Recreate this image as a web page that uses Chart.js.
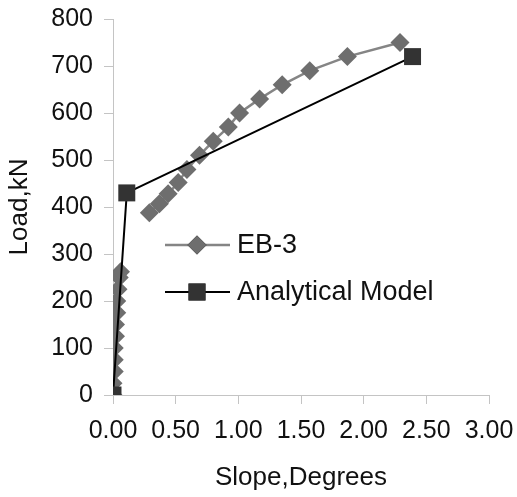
<!DOCTYPE html>
<html>
<head>
<meta charset="utf-8">
<script src="https://cdn.jsdelivr.net/npm/chart.js@4.4.0/dist/chart.umd.min.js"></script>
<style>
  html, body { margin: 0; padding: 0; background: #fff; }
  #wrap { width: 517px; height: 497px; }
</style>
</head>
<body>
<div id="wrap"><canvas id="slopeChart" width="517" height="497"></canvas></div>
<script>
// EB-3 test data (null = gap in the recorded curve)
const ebSlope = [0.00, 0.00, 0.01, 0.01, 0.01, 0.02, 0.02, 0.03, 0.03, 0.04, 0.05, 0.06, null,
  0.29, 0.37, 0.44, 0.52, 0.59, 0.69, 0.80, 0.92, 1.01, 1.17, 1.35, 1.57, 1.87, 2.29];
const ebLoad = [0, 25, 50, 75, 100, 125, 150, 175, 200, 225, 250, 262, null,
  388, 407, 428, 452, 480, 510, 540, 570, 600, 630, 660, 690, 720, 750];

// analytical model
const modelSlope = [0.00, 0.11, 2.39];
const modelLoad = [0, 430, 720];

const xTicks = [0, 0.5, 1, 1.5, 2, 2.5, 3];

const toPoints = (xs, ys) => xs.map((x, i) => ({ x: x, y: ys[i] }));

const FONT = "'Liberation Sans', Arial, sans-serif";
const axisGray = '#c4c4c4';

// legend drawn inside the plot, like the original figure
const insideLegend = {
  id: 'insideLegend',
  afterDraw(chart) {
    const ctx = chart.ctx;
    const items = [
      { label: 'EB-3', ds: chart.data.datasets[0], y: 245 },
      { label: 'Analytical Model', ds: chart.data.datasets[1], y: 292 }
    ];
    ctx.save();
    items.forEach(item => {
      ctx.strokeStyle = item.ds.borderColor;
      ctx.lineWidth = item.ds.borderWidth;
      ctx.beginPath();
      ctx.moveTo(165, item.y);
      ctx.lineTo(230, item.y);
      ctx.stroke();
      Chart.helpers.drawPoint(ctx, {
        pointStyle: item.ds.pointStyle,
        radius: item.ds.pointRadius,
        borderWidth: 0
      }, 197, item.y);
      ctx.fillStyle = item.ds.pointBackgroundColor;
      ctx.fill();
      ctx.fillStyle = '#111';
      ctx.font = '27px ' + FONT;
      ctx.textBaseline = 'middle';
      ctx.textAlign = 'left';
      ctx.fillText(item.label, 237, item.y + 1);
    });
    ctx.restore();
  }
};

// drop the automatic edge padding so the plot area sits where the original does
function fixPadding(scale) {
  scale.paddingTop = 0;
  scale.paddingBottom = 0;
  scale.paddingLeft = 0;
  scale.paddingRight = 0;
}

new Chart(document.getElementById('slopeChart').getContext('2d'), {
  type: 'scatter',
  data: {
    datasets: [
      {
        label: 'EB-3',
        data: toPoints(ebSlope, ebLoad),
        showLine: true,
        spanGaps: false,
        borderColor: '#858585',
        borderWidth: 2.5,
        pointStyle: 'rectRot',
        pointRadius: 9.5,
        pointBackgroundColor: '#6e6e6e',
        pointBorderWidth: 0,
        order: 2
      },
      {
        label: 'Analytical Model',
        data: toPoints(modelSlope, modelLoad),
        showLine: true,
        borderColor: '#000',
        borderWidth: 2,
        pointStyle: 'rect',
        pointRadius: 12,
        pointBackgroundColor: '#333',
        pointBorderWidth: 0,
        order: 1
      }
    ]
  },
  options: {
    responsive: false,
    animation: false,
    layout: { padding: { top: 19, right: 28, left: 0, bottom: 0 } },
    plugins: {
      legend: { display: false },
      tooltip: { enabled: false }
    },
    scales: {
      x: {
        type: 'linear',
        min: 0,
        max: 3,
        afterBuildTicks: scale => { scale.ticks = xTicks.map(v => ({ value: v })); },
        afterFit: scale => { scale.height = 102; fixPadding(scale); },
        ticks: {
          color: '#111',
          font: { family: FONT, size: 25 },
          padding: 12,
          callback: v => Number(v).toFixed(2)
        },
        grid: { drawOnChartArea: false, drawTicks: true, tickLength: 9, color: axisGray },
        border: { display: true, color: axisGray, width: 1 },
        title: {
          display: true,
          text: 'Slope,Degrees',
          color: '#111',
          font: { family: FONT, size: 26 },
          padding: { top: 0, bottom: 4 }
        }
      },
      y: {
        type: 'linear',
        min: 0,
        max: 800,
        afterFit: scale => { scale.width = 113; fixPadding(scale); },
        ticks: {
          stepSize: 100,
          color: '#111',
          font: { family: FONT, size: 25 },
          padding: 11
        },
        grid: { drawOnChartArea: false, drawTicks: true, tickLength: 9, color: axisGray },
        border: { display: true, color: axisGray, width: 1 },
        title: {
          display: true,
          text: 'Load,kN',
          color: '#111',
          font: { family: FONT, size: 26 },
          padding: { top: 4, bottom: 0 }
        }
      }
    }
  },
  plugins: [insideLegend]
});
</script>
</body>
</html>
